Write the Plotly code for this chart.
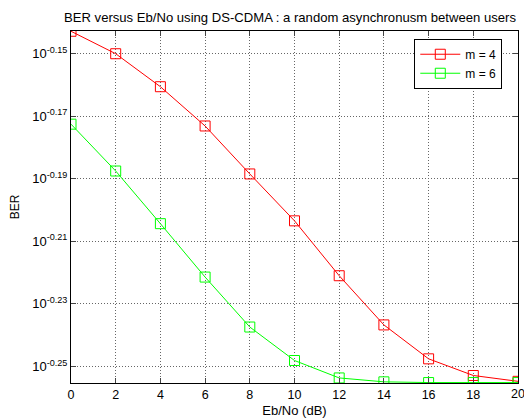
import plotly.graph_objects as go

ebno = [0, 2, 4, 6, 8, 10, 12, 14, 16, 18, 20]
ber_m4 = [0.7198, 0.7080, 0.6910, 0.6713, 0.6480, 0.6260, 0.6012, 0.5798, 0.5655, 0.5586, 0.5562]
ber_m6 = [0.6722, 0.6494, 0.6247, 0.6006, 0.5789, 0.5648, 0.5576, 0.5560, 0.5557, 0.5557, 0.5557]
ytick_exps = ["-0.15", "-0.17", "-0.19", "-0.21", "-0.23", "-0.25"]
xticks = [0, 2, 4, 6, 8, 10, 12, 14, 16, 18, 20]

font = "Liberation Sans, Arial, sans-serif"

fig = go.Figure()
fig.add_trace(go.Scatter(x=ebno, y=ber_m4, mode="lines+markers", name="m = 4",
                         line=dict(color="#ff0000", width=1),
                         marker=dict(symbol="square-open", size=10, color="#ff0000", line=dict(width=1))))
fig.add_trace(go.Scatter(x=ebno, y=ber_m6, mode="lines+markers", name="m = 6",
                         line=dict(color="#00ff00", width=1),
                         marker=dict(symbol="square-open", size=10, color="#00ff00", line=dict(width=1))))

tickvals = [10 ** float(e) for e in ytick_exps]
ticktext = ["10<sup>%s</sup>" % e for e in ytick_exps]

fig.update_layout(
    width=524, height=420,
    margin=dict(l=71, r=6, t=31, b=37, autoexpand=False),
    paper_bgcolor="white", plot_bgcolor="white",
    font=dict(family=font, size=12, color="black"),
    title=dict(text="BER versus Eb/No using DS-CDMA : a random asynchronusm between users",
               x=290 / 524, xanchor="center", y=1 - 17 / 420, yanchor="middle",
               font=dict(size=13.1, family=font, color="black")),
    legend=dict(x=0.768, y=0.978, xanchor="left", yanchor="top",
                bgcolor="white", bordercolor="black", borderwidth=1,
                font=dict(size=12, family=font), itemwidth=40),
    showlegend=True,
)
# last x tick label sits on the right edge (partly cut in the reference)
fig.add_annotation(x=xticks[-1], y=0, xref="x", yref="paper", text=str(xticks[-1]),
                   showarrow=False, xanchor="center", yanchor="top", yshift=-2,
                   font=dict(size=12.5, family=font, color="black"))
fig.update_xaxes(range=[0, 20], tickvals=xticks, ticks="inside", ticklen=5,
                 mirror="allticks", showline=True, linecolor="black", linewidth=1,
                 showgrid=True, gridcolor="#666666", griddash="1px,2px", gridwidth=1,
                 zeroline=False, automargin=False,
                 title=dict(text="Eb/No (dB)", standoff=4, font=dict(size=13)),
                 tickfont=dict(size=12.5))
fig.update_yaxes(type="log", range=[-0.2553, -0.1427], tickvals=tickvals, ticktext=ticktext,
                 ticks="inside", ticklen=5, mirror="allticks", showline=True, linecolor="black",
                 linewidth=1, showgrid=True, gridcolor="#666666", griddash="1px,2px", gridwidth=1,
                 zeroline=False, automargin=False,
                 title=dict(text="BER", standoff=9, font=dict(size=12)),
                 tickfont=dict(size=13))

fig.write_html("out.html", config={"displayModeBar": False},
               post_script="document.body.style.margin='0';")
